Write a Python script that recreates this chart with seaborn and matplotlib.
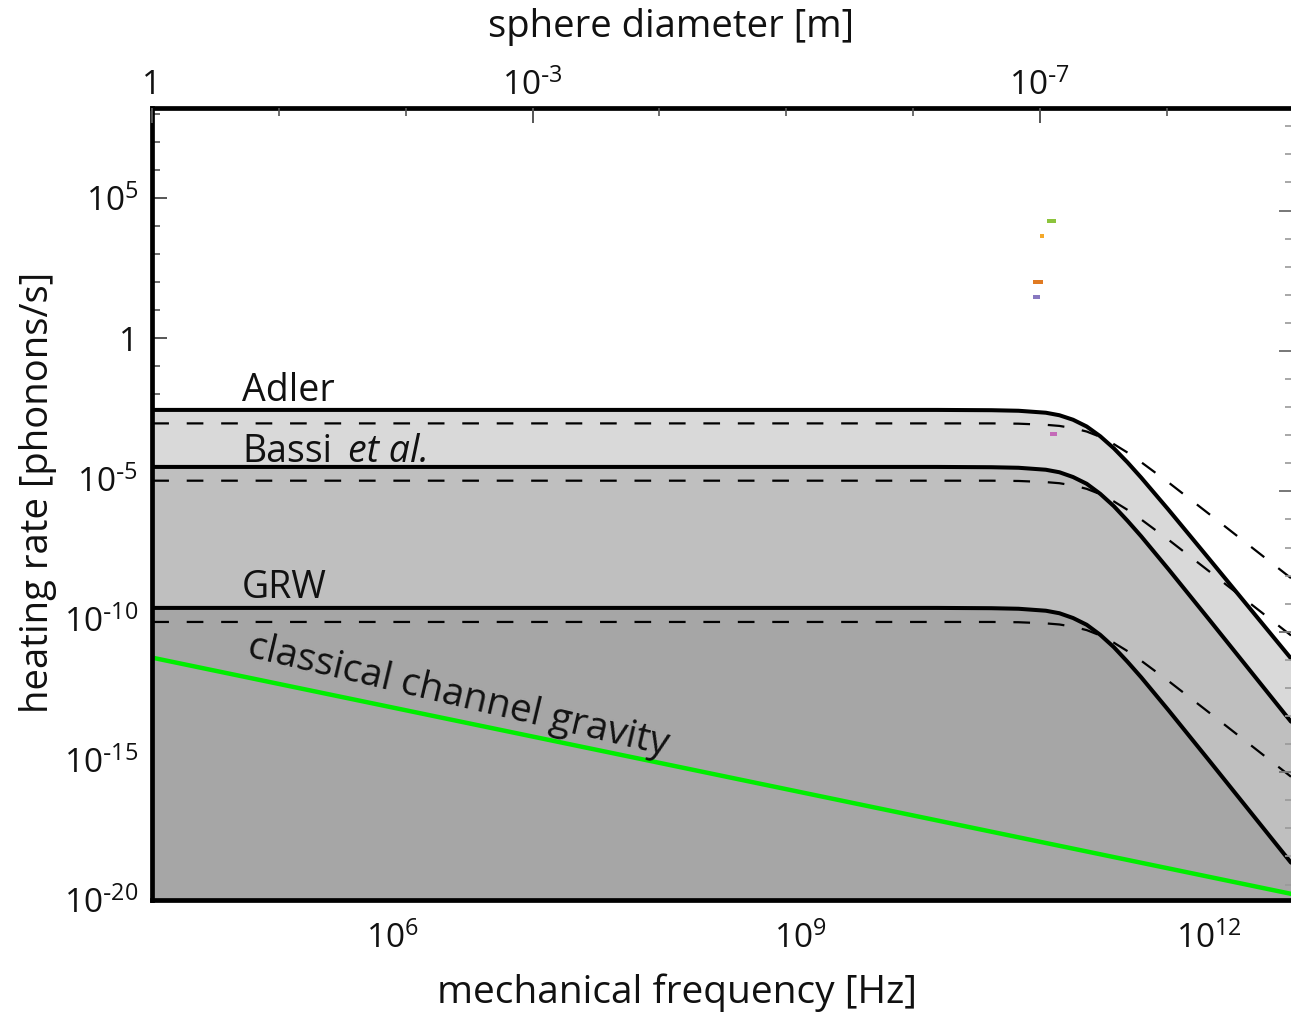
import numpy as np
import matplotlib
matplotlib.use("Agg")
import matplotlib.pyplot as plt
from matplotlib.ticker import FixedLocator, FixedFormatter, NullFormatter
import seaborn as sns

# ---------------- data (log10 values) ----------------
log_freq = [4.24, 9.5, 10.0, 10.4, 10.6, 10.8, 10.9, 11.0, 11.1, 11.2, 11.3,
            11.4, 11.5, 11.7, 12.0, 12.6]

adler_solid = [-2.55, -2.55, -2.55, -2.56, -2.58, -2.65, -2.74, -2.90, -3.14,
               -3.49, -3.92, -4.42, -4.96, -6.10, -7.86, -11.40]
bassi_solid = [-4.58, -4.58, -4.58, -4.59, -4.61, -4.68, -4.77, -4.94, -5.18,
               -5.54, -5.98, -6.50, -7.05, -8.22, -10.02, -13.65]
grw_solid = [-9.60, -9.60, -9.60, -9.61, -9.63, -9.70, -9.79, -9.96, -10.20,
             -10.56, -11.00, -11.52, -12.07, -13.24, -15.04, -18.67]

adler_dashed = [-3.03, -3.03, -3.03, -3.03, -3.04, -3.08, -3.12, -3.20, -3.32,
                -3.51, -3.77, -4.07, -4.41, -5.13, -6.26, -8.54]
bassi_dashed = [-5.07, -5.07, -5.07, -5.07, -5.08, -5.12, -5.16, -5.24, -5.36,
                -5.55, -5.81, -6.11, -6.45, -7.17, -8.30, -10.58]
grw_dashed = [-10.10, -10.10, -10.10, -10.10, -10.11, -10.15, -10.19, -10.27,
              -10.39, -10.58, -10.84, -11.14, -11.48, -12.20, -13.33, -15.61]

gravity_logf = [4.238, 12.60]
gravity_lograte = [-11.37, -19.78]

point_logf = [10.84, 10.77, 10.74, 10.73, 10.85]
point_lograte = [4.18, 3.64, 2.00, 1.46, -3.39]
point_colors = ["#8cc43c", "#f4a82a", "#e07a22", "#8878c0", "#c46ab8"]
point_aspect = [0.45, 0.85, 0.4, 0.55, 0.45]
point_widths = [9, 5, 10, 7, 7]

bottom_ticks = [1e6, 1e9, 1e12]
bottom_labels = ["$10^{6}$", "$10^{9}$", "$10^{12}$"]
left_ticks = [1e5, 1, 1e-5, 1e-10, 1e-15, 1e-20]
left_labels = ["$10^{5}$", "1", r"$10^{\text{-}5}$", r"$10^{\text{-}10}$",
               r"$10^{\text{-}15}$", r"$10^{\text{-}20}$"]
top_ticks = [1, 1e-3, 1e-7]
top_labels = ["1", r"$10^{\text{-}3}$", r"$10^{\text{-}7}$"]

# ---------------- style ----------------
sns.set_style("ticks")
plt.rcParams["font.family"] = ["Open Sans", "DejaVu Sans"]
plt.rcParams["mathtext.default"] = "regular"

W, H = 1291, 1015
fig = plt.figure(figsize=(W / 100, H / 100), dpi=100)
L, R, T, B = 152, 1291, 108, 900
ax = fig.add_axes([L / W, 1 - B / H, (R - L) / W, (B - T) / H])

f = 10 ** np.array(log_freq)
ymin = 1e-20

ax.set_xscale("log")
ax.set_yscale("log")

ax.fill_between(f, ymin, 10 ** np.array(adler_solid), color="#d9d9d9", lw=0)
ax.fill_between(f, ymin, 10 ** np.array(bassi_solid), color="#bfbfbf", lw=0)
ax.fill_between(f, ymin, 10 ** np.array(grw_solid), color="#a6a6a6", lw=0)

for arr in (adler_dashed, bassi_dashed, grw_dashed):
    sns.lineplot(x=f, y=10 ** np.array(arr), ax=ax, color="black", lw=1.6,
                 linestyle=(0, (7.5, 8.0)), sort=False)
for arr in (adler_solid, bassi_solid, grw_solid):
    sns.lineplot(x=f, y=10 ** np.array(arr), ax=ax, color="black", lw=2.9,
                 sort=False)

sns.lineplot(x=10 ** np.array(gravity_logf), y=10 ** np.array(gravity_lograte),
             ax=ax, color="#00ee00", lw=3.2, sort=False)

for lx, ly, c, w, a in zip(point_logf, point_lograte, point_colors,
                           point_widths, point_aspect):
    rect = [(-1, -a), (1, -a), (1, a), (-1, a), (-1, -a)]
    ax.scatter([10 ** lx], [10 ** ly], marker=rect, s=(w * 0.72) ** 2,
               color=c, lw=0, zorder=5)

ax.set_xlim(10 ** 4.238, 10 ** 12.60)
ax.set_ylim(1e-20, 10 ** 8.2)

# ticks
ax.xaxis.set_major_locator(FixedLocator(bottom_ticks))
ax.xaxis.set_major_formatter(FixedFormatter(bottom_labels))
ax.xaxis.set_minor_locator(FixedLocator([10.0 ** k for k in range(5, 13)]))
ax.xaxis.set_minor_formatter(NullFormatter())
ax.yaxis.set_major_locator(FixedLocator(left_ticks))
ax.yaxis.set_major_formatter(FixedFormatter(left_labels))
ax.yaxis.set_minor_locator(FixedLocator([10.0 ** k for k in range(-20, 9)]))
ax.yaxis.set_minor_formatter(NullFormatter())
ax.tick_params(axis="both", which="major", direction="in", length=11,
               width=1.4, color="#555555", labelsize=24, labelcolor="#111111")
ax.tick_params(axis="both", which="minor", direction="in", length=6,
               width=1.2, color="#555555")
ax.tick_params(axis="x", which="major", pad=16)
ax.tick_params(axis="y", which="major", pad=10)

for s in ("left", "bottom", "top"):
    ax.spines[s].set_linewidth(3.4)
    ax.spines[s].set_color("black")
ax.spines["right"].set_visible(False)

ax.set_xlabel("mechanical frequency [Hz]", fontsize=28, color="#111111")
ax.xaxis.set_label_coords((677 - L) / (R - L), (B - 993) / (B - T))
ax.xaxis.label.set_verticalalignment("center")
ax.set_ylabel("heating rate [phonons/s]", fontsize=27.5, color="#111111")
ax.yaxis.set_label_coords((38 - L) / (R - L), (B - 492) / (B - T))
ax.yaxis.label.set_verticalalignment("center")

# top axis: sphere diameter
ax2 = ax.twiny()
ax2.set_xscale("log")
ax2.set_xlim(1, 10 ** -8.98)
ax2.xaxis.set_major_locator(FixedLocator(top_ticks))
ax2.xaxis.set_major_formatter(FixedFormatter(top_labels))
ax2.xaxis.set_minor_locator(FixedLocator([10.0 ** -k for k in range(0, 9)]))
ax2.xaxis.set_minor_formatter(NullFormatter())
ax2.tick_params(axis="x", which="major", direction="in", length=11, width=1.4,
                color="#555555", labelsize=24, pad=4, labelcolor="#111111")
ax2.tick_params(axis="x", which="minor", direction="in", length=6, width=1.2,
                color="#555555")
for s in ax2.spines.values():
    s.set_visible(False)
ax2.set_xlabel("sphere diameter [m]", fontsize=27.5, color="#111111")
ax2.xaxis.set_label_coords((671 - L) / (R - L), (B - 27) / (B - T))
ax2.xaxis.label.set_verticalalignment("center")

# right-side ticks (unlabelled axis)
ax3 = ax.twinx()
ax3.set_yscale("log")
ax3.set_ylim(1e-20, 10 ** 8.2)
ax3.yaxis.set_major_locator(FixedLocator([10 ** (k + 0.55) for k in (4, -1, -6, -11, -16)]))
ax3.yaxis.set_major_formatter(NullFormatter())
ax3.yaxis.set_minor_locator(FixedLocator([10 ** (k + 0.55) for k in range(-20, 8)]))
ax3.yaxis.set_minor_formatter(NullFormatter())
ax3.tick_params(axis="y", which="major", direction="in", length=9, width=1.4,
                color="#777777")
ax3.tick_params(axis="y", which="minor", direction="in", length=4, width=1.2,
                color="#999999")
for s in ax3.spines.values():
    s.set_visible(False)

# annotations
ax.text(10 ** 4.899, 10 ** -1.87, "Adler", fontsize=27, va="center", ha="left",
        color="#111111")
ax.text(10 ** 4.899, 10 ** -4.05, "Bassi", fontsize=27, va="center", ha="left",
        color="#111111")
ax.annotate("et al.", xy=(10 ** 4.899, 10 ** -4.05), xytext=(76, 0),
            textcoords="offset points", fontsize=27, va="center", ha="left",
            style="italic", color="#111111")
ax.text(10 ** 4.899, 10 ** -8.88, "GRW", fontsize=27, va="center", ha="left",
        color="#111111")
ax.text(10 ** 6.49, 10 ** -12.75, "classical channel gravity", fontsize=28,
        va="center", ha="center", rotation=-13.3, rotation_mode="anchor",
        color="#111111")

fig.savefig("out.png", dpi=100)
